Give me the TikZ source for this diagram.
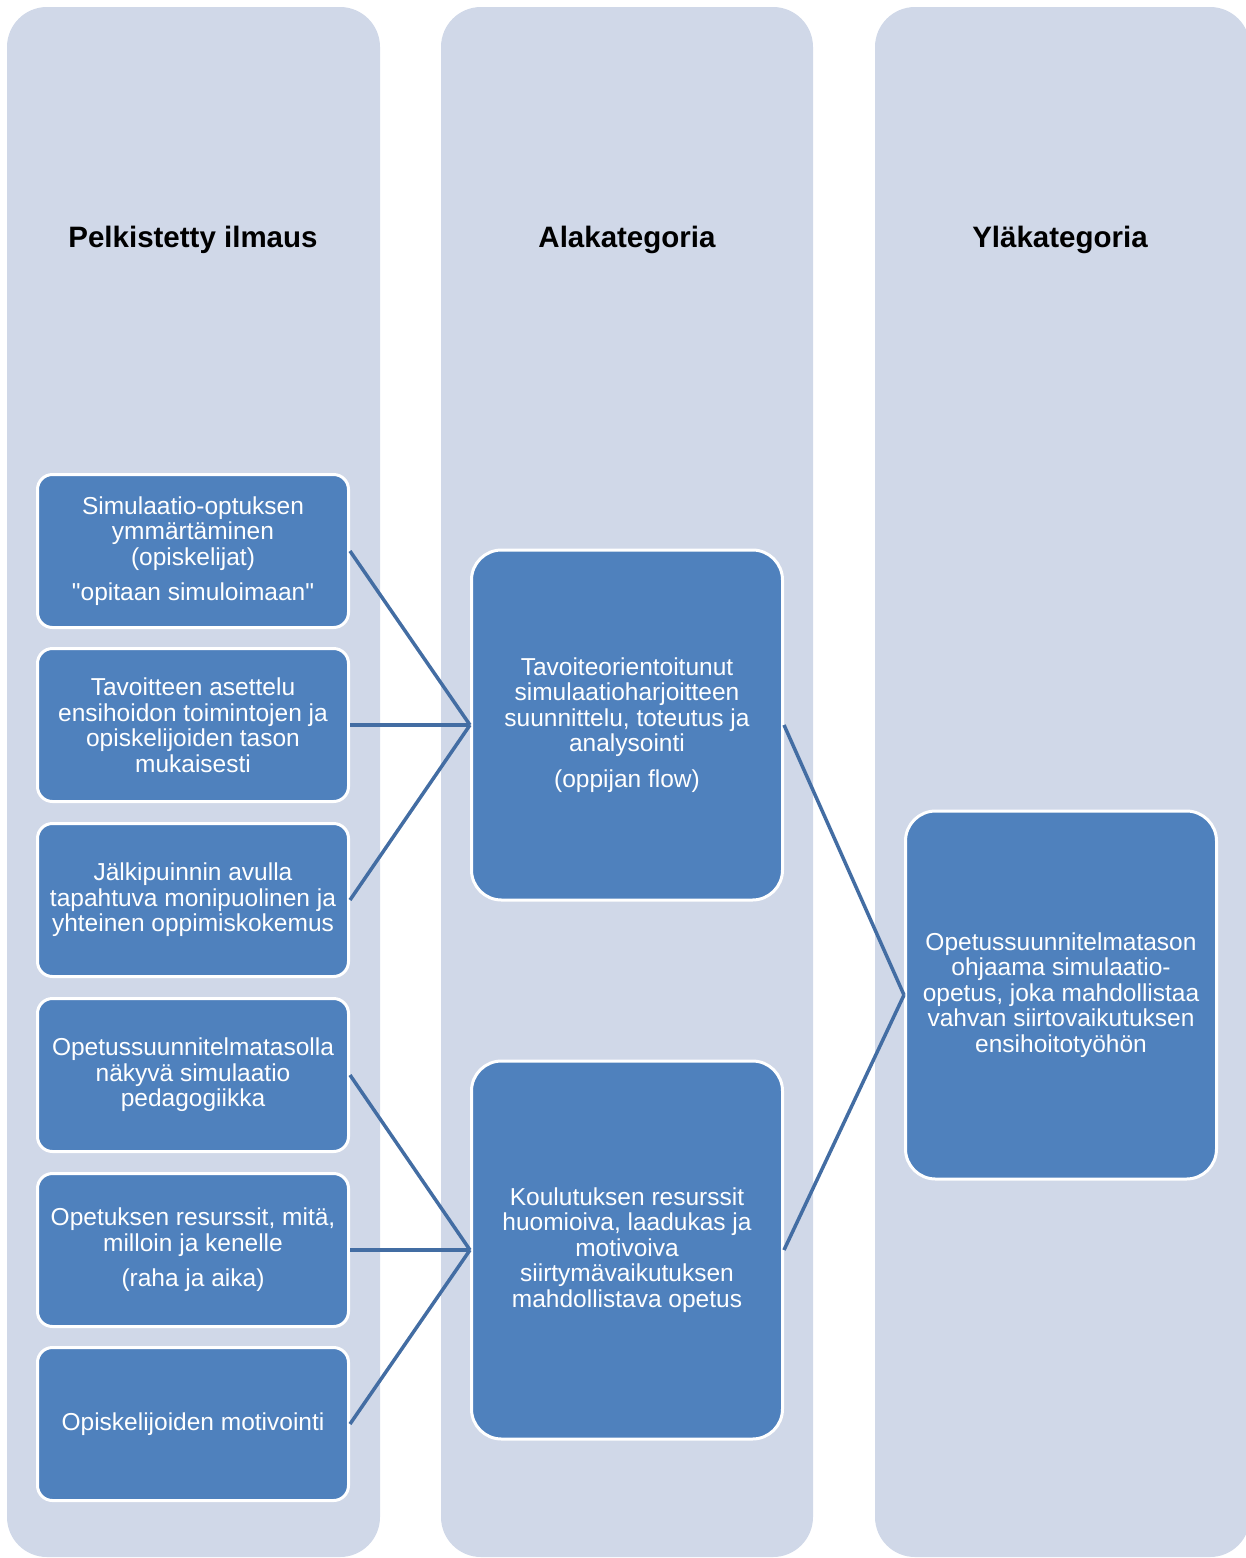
\documentclass[tikz,border=0pt]{standalone}
\usepackage{fontspec}
\setmainfont{Liberation Sans}[Ligatures=TeXOff]
\definecolor{colbg}{HTML}{D0D8E8}
\definecolor{boxfill}{HTML}{4F81BD}
\definecolor{linkcol}{HTML}{436DA3}
\begin{document}
\begin{tikzpicture}[x=1pt,y=-1pt,
  column/.style={fill=colbg,rounded corners=40pt},
  header/.style={font=\fontsize{29.5}{34}\selectfont\bfseries,text=black},
  item/.style={fill=boxfill,draw=white,line width=3pt,rounded corners=15pt,
    minimum width=311pt,minimum height=153pt,text=white,align=center,
    font=\fontsize{24.5}{25.5}\selectfont,inner sep=1pt},
  bigbox/.style={item,rounded corners=30pt},
  link/.style={draw=linkcol,line width=3.5pt}]
\useasboundingbox (0,0) rectangle (1245,1558);
% three background columns
\path[column] (7,7) rectangle (380,1557);
\path[column] (441,7) rectangle (813,1557);
\path[column] (875,7) rectangle (1250,1557);
% column headings
\node[header] (h1) at (193,240) {Pelkistetty ilmaus};
\node[header] (h2) at (627,240) {Alakategoria};
\node[header] (h3) at (1060,240) {Yläkategoria};
% reduced expressions
\node[item] (l1) at (193,551) {Simulaatio-optuksen\\ymmärtäminen\\(opiskelijat)\\[10pt]"opitaan simuloimaan"};
\node[item] (l2) at (193,725) {Tavoitteen asettelu\\ensihoidon toimintojen ja\\opiskelijoiden tason\\mukaisesti};
\node[item] (l3) at (193,900) {Jälkipuinnin avulla\\tapahtuva monipuolinen ja\\yhteinen oppimiskokemus};
\node[item] (l4) at (193,1075) {Opetussuunnitelmatasolla\\näkyvä simulaatio\\pedagogiikka};
\node[item] (l5) at (193,1250) {Opetuksen resurssit, mitä,\\milloin ja kenelle\\[10pt](raha ja aika)};
\node[item] (l6) at (193,1424) {Opiskelijoiden motivointi};
% subcategories
\node[bigbox,minimum height=350pt] (a) at (627,725) {Tavoiteorientoitunut\\simulaatioharjoitteen\\suunnittelu, toteutus ja\\analysointi\\[10pt](oppijan flow)};
\node[bigbox,minimum height=378pt] (b) at (627,1250) {Koulutuksen resurssit\\huomioiva, laadukas ja\\motivoiva\\siirtymävaikutuksen\\mahdollistava opetus};
% main category
\node[bigbox,minimum height=368pt] (c) at (1061,995) {Opetussuunnitelmatason\\ohjaama simulaatio-\\opetus, joka mahdollistaa\\vahvan siirtovaikutuksen\\ensihoitotyöhön};
% connectors
\draw[link] (l1.east) -- (a.west);
\draw[link] (l2.east) -- (a.west);
\draw[link] (l3.east) -- (a.west);
\draw[link] (l4.east) -- (b.west);
\draw[link] (l5.east) -- (b.west);
\draw[link] (l6.east) -- (b.west);
\draw[link] (a.east) -- (c.west);
\draw[link] (b.east) -- (c.west);
\end{tikzpicture}
\end{document}
